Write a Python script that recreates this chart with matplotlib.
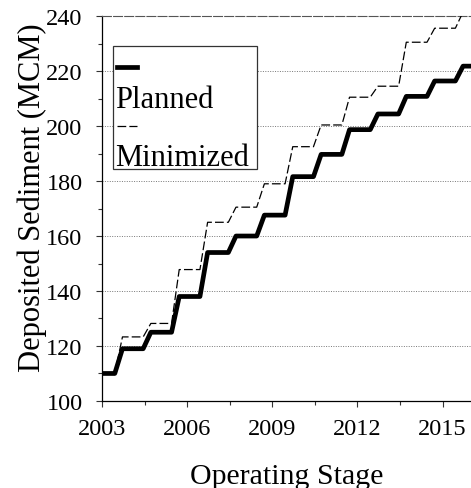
import numpy as np
import matplotlib
matplotlib.use("Agg")
import matplotlib.pyplot as plt
from matplotlib.patches import Rectangle
from matplotlib.ticker import MultipleLocator

# plateau levels, one per operating year (MCM)
years = np.arange(2003, 2016)
planned = [110, 119, 125, 138, 154, 160, 167.6, 181.6, 189.7, 198.7, 204.4, 210.8, 216.4, 221.8]
minimized = [110, 123.3, 128.2, 147.8, 165, 170.5, 179, 192.5, 200.4, 210.5, 214.5, 230.5, 235.6, 241.5]
xticks = [2003, 2006, 2009, 2012, 2015]
rise_start = 0.45   # fraction of year where the deposit jump begins
rise_end = 0.72


def staircase(levels):
    t = [2003.0]
    v = [levels[0]]
    for i, yr in enumerate(years):
        t += [yr + rise_start, yr + rise_end]
        v += [levels[i], levels[i + 1]]
    t.append(2016.0)
    v.append(levels[-1])
    return t, v


plt.rcParams['font.family'] = ['Liberation Serif', 'DejaVu Serif']

fig = plt.figure(figsize=(4.71, 4.89), dpi=100)
ax = fig.add_axes([0.2166, 0.178, 0.7834, 0.787])

tp, vp = staircase(planned)
tm, vm = staircase(minimized)
ax.plot(tp, vp, color='black', lw=3.4, solid_joinstyle='round', solid_capstyle='round', zorder=3)
ax.plot(tm, vm, color='black', lw=0.9, linestyle=(0, (7, 2.5)), zorder=3)

ax.set_xlim(2003, 2016)
ax.set_ylim(100, 240)
ax.set_xticks(xticks)
ax.set_xticks([x + 1.5 for x in xticks[:-1]], minor=True)
ax.yaxis.set_major_locator(MultipleLocator(20))
ax.yaxis.set_minor_locator(MultipleLocator(10))
ax.tick_params(which='both', direction='out', labelsize=17.5, width=0.8, color='#333333')
ax.tick_params(which='major', length=4)
ax.tick_params(which='minor', length=3)
ax.tick_params(axis='x', pad=8.5)
ax.tick_params(axis='y', pad=10)

for yv in range(120, 240, 20):
    ax.axhline(yv, color='#777777', lw=0.7, linestyle=(0, (1, 1.5)), zorder=1)

ax.spines['right'].set_visible(False)
ax.spines['top'].set_color('#555555')
ax.spines['top'].set_linestyle((0, (8, 2)))
ax.spines['top'].set_linewidth(0.8)
ax.spines['left'].set_linewidth(0.9)
ax.spines['bottom'].set_linewidth(0.9)

ax.set_xlabel('Operating Stage', fontsize=21.5)
ax.set_ylabel('Deposited Sediment (MCM)', fontsize=22)
ax.xaxis.set_label_coords(0.5, -0.16)
ax.yaxis.set_label_coords(-0.15, 0.53)

# legend drawn by hand: handle sits on its own line above each label
ax.add_patch(Rectangle((0.030, 0.603), 0.390, 0.319, transform=ax.transAxes,
                       facecolor='white', edgecolor='#333333', lw=0.9, zorder=4))
ax.plot([0.041, 0.095], [0.868, 0.868], transform=ax.transAxes, color='black', lw=3.4, zorder=5)
ax.text(0.036, 0.764, 'Planned', transform=ax.transAxes, fontsize=22, va='baseline', zorder=5)
ax.plot([0.041, 0.095], [0.714, 0.714], transform=ax.transAxes, color='black', lw=0.9,
        linestyle=(0, (7, 2.5)), zorder=5)
ax.text(0.036, 0.612, 'Minimized', transform=ax.transAxes, fontsize=22, va='baseline', zorder=5)

fig.savefig('out.png', dpi=100)
